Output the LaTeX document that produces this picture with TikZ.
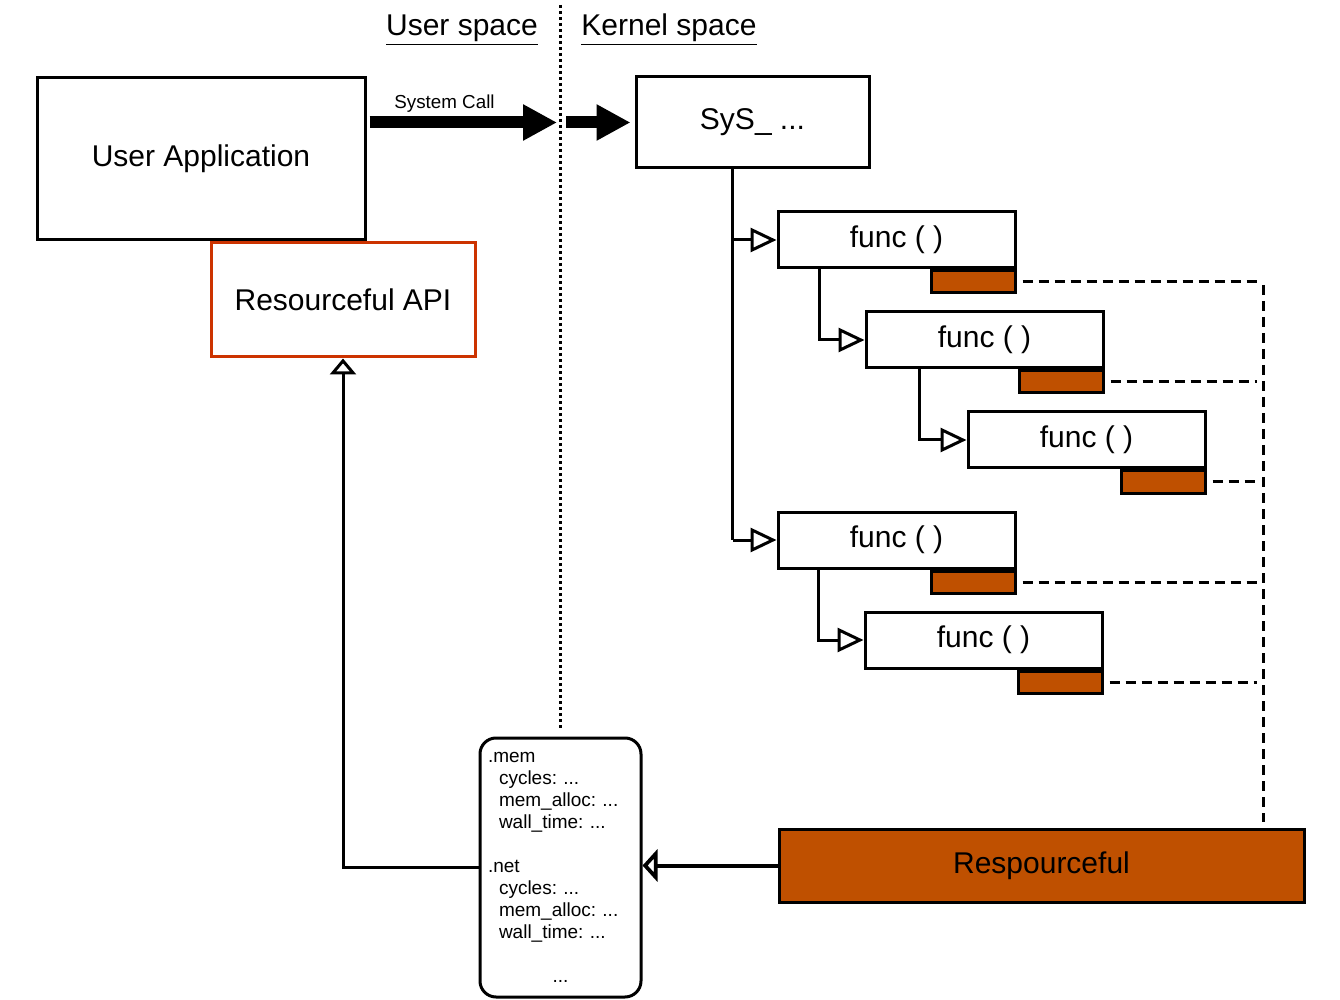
\documentclass[tikz,border=0pt]{standalone}
\usepackage{fontspec}
\setmainfont{Liberation Sans}
\usetikzlibrary{arrows.meta,positioning}
\definecolor{costorange}{RGB}{191,80,0}
\definecolor{apired}{RGB}{204,51,0}
\frenchspacing

\begin{document}
\begin{tikzpicture}[x=0.5pt,y=-0.5pt,
  box/.style={draw,line width=1.5pt,inner sep=0pt,font=\fontsize{15}{18}\selectfont},
  funcbox/.style={box,minimum width=118.5pt,minimum height=28pt},
  costbox/.style={draw,line width=1.5pt,fill=costorange,inner sep=0pt,
    minimum width=42pt,minimum height=11pt,anchor=north east},
  title/.style={font=\fontsize{15}{18}\selectfont},
  callarrow/.style={line width=6pt,-{Triangle[length=17pt,width=17pt]}},
  branch/.style={line width=1.5pt,-{Triangle[open,length=13pt,width=12pt]}},
  collect/.style={line width=2pt,-{Triangle[open,length=7.5pt,width=16pt]}},
  feedback/.style={line width=1.5pt,-{Triangle[open,length=8pt,width=13pt]}},
  busline/.style={line width=1.5pt,dash pattern=on 5pt off 3pt,shorten <=3pt,shorten >=3pt}]
  \useasboundingbox (0,0) rectangle (1340,1000);

  \coordinate (divtop) at (560,5);
  \coordinate (divbot) at (560,730);
  \draw[line width=1.5pt,dash pattern=on 1.5pt off 1.5pt] (divtop) -- (divbot);
  \node[title] (userlbl) at (462,30) {\underline{User space}};
  \node[title] (kernlbl) at (669,30) {\underline{Kernel space}};

  \node[box,minimum width=164pt,minimum height=81pt] (app) at (201,159) {User Application};
  \node[box,draw=apired,minimum width=132pt,minimum height=57pt] (api) at (343,300) {Resourceful API};
  \node[box,minimum width=116.5pt,minimum height=45.5pt] (sys) at (752.5,122.5) {SyS\_ ...};

  \draw[callarrow] ([xshift=1.5pt]app.north east |- sys.west) -- ([xshift=-1.5pt]divtop |- sys.west)
    node[pos=0.4,above=-1.5pt,font=\fontsize{9.4}{11}\selectfont] (calllbl) {System Call};
  \draw[callarrow] ([xshift=3pt]divtop |- sys.west) -- ([xshift=-2pt]sys.west);

  \node[funcbox] (f1) at (896.5,240) {func ( )};
  \node[funcbox] (f2) at (984.5,340) {func ( )};
  \node[funcbox] (f3) at (1086.5,440) {func ( )};
  \node[funcbox] (f4) at (896.5,540) {func ( )};
  \node[funcbox] (f5) at (983.5,640) {func ( )};
  \foreach \i in {1,...,5}
    \node[costbox] (c\i) at (f\i.south east) {};

  \coordinate (trunk) at ([xshift=49pt]sys.south west);
  \draw[line width=1.5pt] (trunk) -- (trunk |- f4.west);
  \draw[branch] (trunk |- f1.west) -- (f1.west);
  \draw[branch] (trunk |- f4.west) -- (f4.west);
  \draw[branch] ([xshift=21.5pt]f1.south west) |- (f2.west);
  \draw[branch] ([xshift=27.5pt]f2.south west) |- (f3.west);
  \draw[branch] ([xshift=21pt]f4.south west) |- (f5.west);

  \node[box,fill=costorange,minimum width=262.5pt,minimum height=36.5pt] (resp) at (1041.5,865.5) {Respourceful};

  \coordinate (bus) at (1263,279);
  \foreach \i in {1,...,5}
    \draw[busline] (c\i.east) -- (c\i.east -| bus);
  \draw[busline] (bus) -- (bus |- resp.north);

  \node[box,rounded corners=8pt,minimum width=80.5pt,minimum height=129.5pt,
    text width=72.5pt,align=left,font=\fontsize{9.5}{11}\selectfont] (stats) at (560.5,867.5)
    {.mem\\ \hspace*{5.5pt}cycles: ...\\ \hspace*{5.5pt}mem\_alloc: ...\\ \hspace*{5.5pt}wall\_time: ...\\[11pt]
     .net\\ \hspace*{5.5pt}cycles: ...\\ \hspace*{5.5pt}mem\_alloc: ...\\ \hspace*{5.5pt}wall\_time: ...\\[11pt]
     \makebox[72.5pt]{...}};

  \draw[collect] (resp.west) -- (resp.west -| stats.east);
  \draw[feedback] (stats.west) -| (api.south);
\end{tikzpicture}
\end{document}
